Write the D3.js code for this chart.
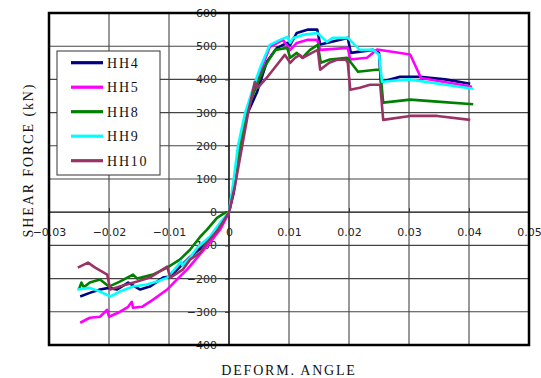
<!DOCTYPE html>
<html>
<head>
<meta charset="utf-8">
<script src="https://cdn.jsdelivr.net/npm/d3@7"></script>
<style>
  body { margin: 0; background: #fff; }
  svg { display: block; }
</style>
</head>
<body>
<div id="chart"></div>
<script>
// skeleton curves, [deform. angle, shear force kN]
const hh4 = [[-0.0248,-254],[-0.0232,-243],[-0.0215,-233],[-0.0200,-228],[-0.0187,-233],[-0.0168,-212],[-0.0148,-233],[-0.0132,-224],[-0.0110,-197],[-0.0098,-194],[-0.0082,-165],[-0.0065,-135],[-0.0048,-110],[-0.0030,-75],[-0.0015,-40],[0,0],
  [0.0008,60],[0.0015,150],[0.0023,250],[0.0030,294],[0.0047,363],[0.0063,453],[0.0080,495],[0.0097,510],[0.0102,504],[0.0113,540],[0.0132,550],[0.0147,550],[0.0152,505],[0.0175,515],[0.0198,525],[0.0203,480],[0.0240,489],[0.0250,480],[0.0253,392],[0.0285,408],[0.0318,408],[0.0360,400],[0.0402,387]];
const hh5 = [[-0.0248,-333],[-0.0232,-318],[-0.0215,-315],[-0.0203,-294],[-0.0200,-315],[-0.0185,-303],[-0.0168,-285],[-0.0162,-270],[-0.0160,-288],[-0.0145,-285],[-0.0127,-264],[-0.0103,-233],[-0.0087,-203],[-0.0070,-173],[-0.0053,-137],[-0.0032,-92],[-0.0015,-53],[-0.0002,-8],[0,0],
  [0.0010,100],[0.0020,220],[0.0030,300],[0.0045,390],[0.0058,450],[0.0068,498],[0.0090,519],[0.0102,489],[0.0113,510],[0.0130,519],[0.0147,519],[0.0152,489],[0.0198,495],[0.0202,460],[0.0230,465],[0.0247,490],[0.0302,475],[0.0320,404],[0.0405,378]];
const hh8 = [[-0.0250,-232],[-0.0246,-212],[-0.0242,-226],[-0.0232,-212],[-0.0215,-203],[-0.0200,-224],[-0.0182,-209],[-0.0160,-188],[-0.0153,-200],[-0.0127,-188],[-0.0103,-167],[-0.0082,-143],[-0.0065,-113],[-0.0048,-74],[-0.0037,-53],[-0.0020,-17],[-0.0005,0],[0,0],
  [0.0010,100],[0.0020,220],[0.0035,330],[0.0050,400],[0.0060,440],[0.0077,489],[0.0097,495],[0.0102,465],[0.0113,480],[0.0122,465],[0.0135,489],[0.0148,504],[0.0153,450],[0.0168,460],[0.0197,465],[0.0215,423],[0.0245,429],[0.0252,429],[0.0257,330],[0.0302,339],[0.0347,333],[0.0407,325]];
const hh9 = [[-0.0253,-233],[-0.0232,-228],[-0.0215,-239],[-0.0198,-254],[-0.0182,-239],[-0.0160,-224],[-0.0137,-218],[-0.0120,-209],[-0.0103,-197],[-0.0085,-160],[-0.0080,-148],[-0.0078,-160],[-0.0065,-137],[-0.0053,-107],[-0.0032,-74],[-0.0015,-32],[0,0],
  [0.0008,100],[0.0015,200],[0.0027,300],[0.0045,400],[0.0052,435],[0.0068,504],[0.0085,519],[0.0097,528],[0.0102,510],[0.0107,525],[0.0123,534],[0.0147,540],[0.0163,513],[0.0173,525],[0.0198,525],[0.0218,489],[0.0240,489],[0.0250,475],[0.0255,393],[0.0300,400],[0.0407,372]];
const hh10 = [[-0.0252,-167],[-0.0235,-152],[-0.0223,-167],[-0.0203,-188],[-0.0198,-233],[-0.0182,-224],[-0.0153,-209],[-0.0132,-197],[-0.0103,-164],[-0.0098,-197],[-0.0077,-173],[-0.0065,-143],[-0.0048,-122],[-0.0037,-92],[-0.0020,-58],[0,0],
  [0.0010,80],[0.0020,180],[0.0032,300],[0.0043,392],[0.0048,375],[0.0063,405],[0.0080,444],[0.0093,474],[0.0102,450],[0.0110,465],[0.0118,474],[0.0123,465],[0.0138,480],[0.0148,489],[0.0152,429],[0.0167,450],[0.0180,459],[0.0195,459],[0.0198,450],[0.0202,369],[0.0218,375],[0.0235,384],[0.0252,384],[0.0257,278],[0.0302,290],[0.0347,290],[0.0402,278]];

const seriesNames = ['HH4', 'HH5', 'HH8', 'HH9', 'HH10'];
const seriesData = [hh4, hh5, hh8, hh9, hh10];
const seriesColors = ['#000080', '#ff00ff', '#008000', '#00ffff', '#993366'];

const xTicks = [-0.03, -0.02, -0.01, 0, 0.01, 0.02, 0.03, 0.04, 0.05];
const yTicks = [-400, -300, -200, -100, 0, 100, 200, 300, 400, 500, 600];

const width = 541, height = 378;
const plot = { left: 49, right: 529, top: 13, bottom: 345 };

const svg = d3.select('#chart')
  .append('svg')
  .attr('width', width)
  .attr('height', height);

svg.append('rect')
  .attr('width', width)
  .attr('height', height)
  .attr('fill', '#fff');

const x = d3.scaleLinear()
  .domain([-0.03, 0.05])
  .range([plot.left, plot.right]);

const y = d3.scaleLinear()
  .domain([-400, 600])
  .range([plot.bottom, plot.top]);

const fmtX = v => v === 0 ? '0' : d3.format('.2f')(v).replace('-', '\u2212');
const fmtY = v => String(v).replace('-', '\u2212');

// tick labels sit on the zero lines
const yAxis = d3.axisLeft(y)
  .tickValues(yTicks)
  .tickSizeInner(4)
  .tickSizeOuter(0)
  .tickPadding(8)
  .tickFormat(fmtY);

const xAxis = d3.axisBottom(x)
  .tickValues(xTicks)
  .tickSizeInner(-4)
  .tickSizeOuter(0)
  .tickPadding(16)
  .tickFormat(fmtX);

const yAx = svg.append('g')
  .attr('transform', `translate(${x(0)},0)`)
  .call(yAxis);
yAx.select('.domain').remove();

const xAx = svg.append('g')
  .attr('transform', `translate(0,${y(0)})`)
  .call(xAxis);
xAx.select('.domain').remove();

svg.selectAll('.tick text')
  .style('font-family', '"DejaVu Sans", sans-serif')
  .style('font-size', '11px')
  .style('fill', '#222');
svg.selectAll('.tick line').attr('stroke', '#222');

// grid
const grid = svg.append('g')
  .attr('stroke', '#444')
  .attr('stroke-width', 1.1);

grid.selectAll('.vg')
  .data(xTicks)
  .enter()
  .append('line')
  .attr('x1', d => x(d))
  .attr('x2', d => x(d))
  .attr('y1', plot.top)
  .attr('y2', plot.bottom);

grid.selectAll('.hg')
  .data(yTicks)
  .enter()
  .append('line')
  .attr('x1', plot.left)
  .attr('x2', plot.right)
  .attr('y1', d => y(d))
  .attr('y2', d => y(d));

// zero lines a bit darker
svg.append('line')
  .attr('x1', x(0)).attr('x2', x(0))
  .attr('y1', plot.top).attr('y2', plot.bottom)
  .attr('stroke', '#111').attr('stroke-width', 1.3);
svg.append('line')
  .attr('x1', plot.left).attr('x2', plot.right)
  .attr('y1', y(0)).attr('y2', y(0))
  .attr('stroke', '#333').attr('stroke-width', 1.3);

// curves
const line = d3.line()
  .x(d => x(d[0]))
  .y(d => y(d[1]));

svg.append('g')
  .selectAll('path')
  .data(seriesData)
  .enter()
  .append('path')
  .attr('d', line)
  .attr('fill', 'none')
  .attr('stroke', (d, i) => seriesColors[i])
  .attr('stroke-width', 2.6)
  .attr('stroke-linejoin', 'round');

// frame
svg.append('rect')
  .attr('x', plot.left)
  .attr('y', plot.top)
  .attr('width', plot.right - plot.left)
  .attr('height', plot.bottom - plot.top)
  .attr('fill', 'none')
  .attr('stroke', '#000')
  .attr('stroke-width', 2.5);

// legend
const legend = svg.append('g');
legend.append('rect')
  .attr('x', 57)
  .attr('y', 51)
  .attr('width', 103)
  .attr('height', 124)
  .attr('fill', '#fff')
  .attr('stroke', '#333')
  .attr('stroke-width', 1);

const rows = legend.selectAll('.row')
  .data(seriesNames)
  .enter()
  .append('g')
  .attr('transform', (d, i) => `translate(0,${62.7 + i * 24.5})`);

rows.append('line')
  .attr('x1', 71)
  .attr('x2', 103)
  .attr('stroke', (d, i) => seriesColors[i])
  .attr('stroke-width', 3.2);

rows.append('text')
  .attr('x', 107)
  .attr('dy', '0.35em')
  .style('font-family', '"Liberation Serif", serif')
  .style('font-size', '14px')
  .style('letter-spacing', '1.8px')
  .style('fill', '#111')
  .text(d => d);

// axis titles
svg.append('text')
  .attr('transform', `translate(33,160) rotate(-90)`)
  .attr('text-anchor', 'middle')
  .style('font-family', '"Liberation Serif", serif')
  .style('font-size', '14px')
  .style('letter-spacing', '1.9px')
  .style('fill', '#111')
  .text('SHEAR FORCE (kN)');

svg.append('text')
  .attr('x', (plot.left + plot.right) / 2)
  .attr('y', 375)
  .attr('text-anchor', 'middle')
  .style('font-family', '"Liberation Serif", serif')
  .style('font-size', '14px')
  .style('letter-spacing', '1.8px')
  .style('fill', '#111')
  .text('DEFORM. ANGLE');
</script>
</body>
</html>
